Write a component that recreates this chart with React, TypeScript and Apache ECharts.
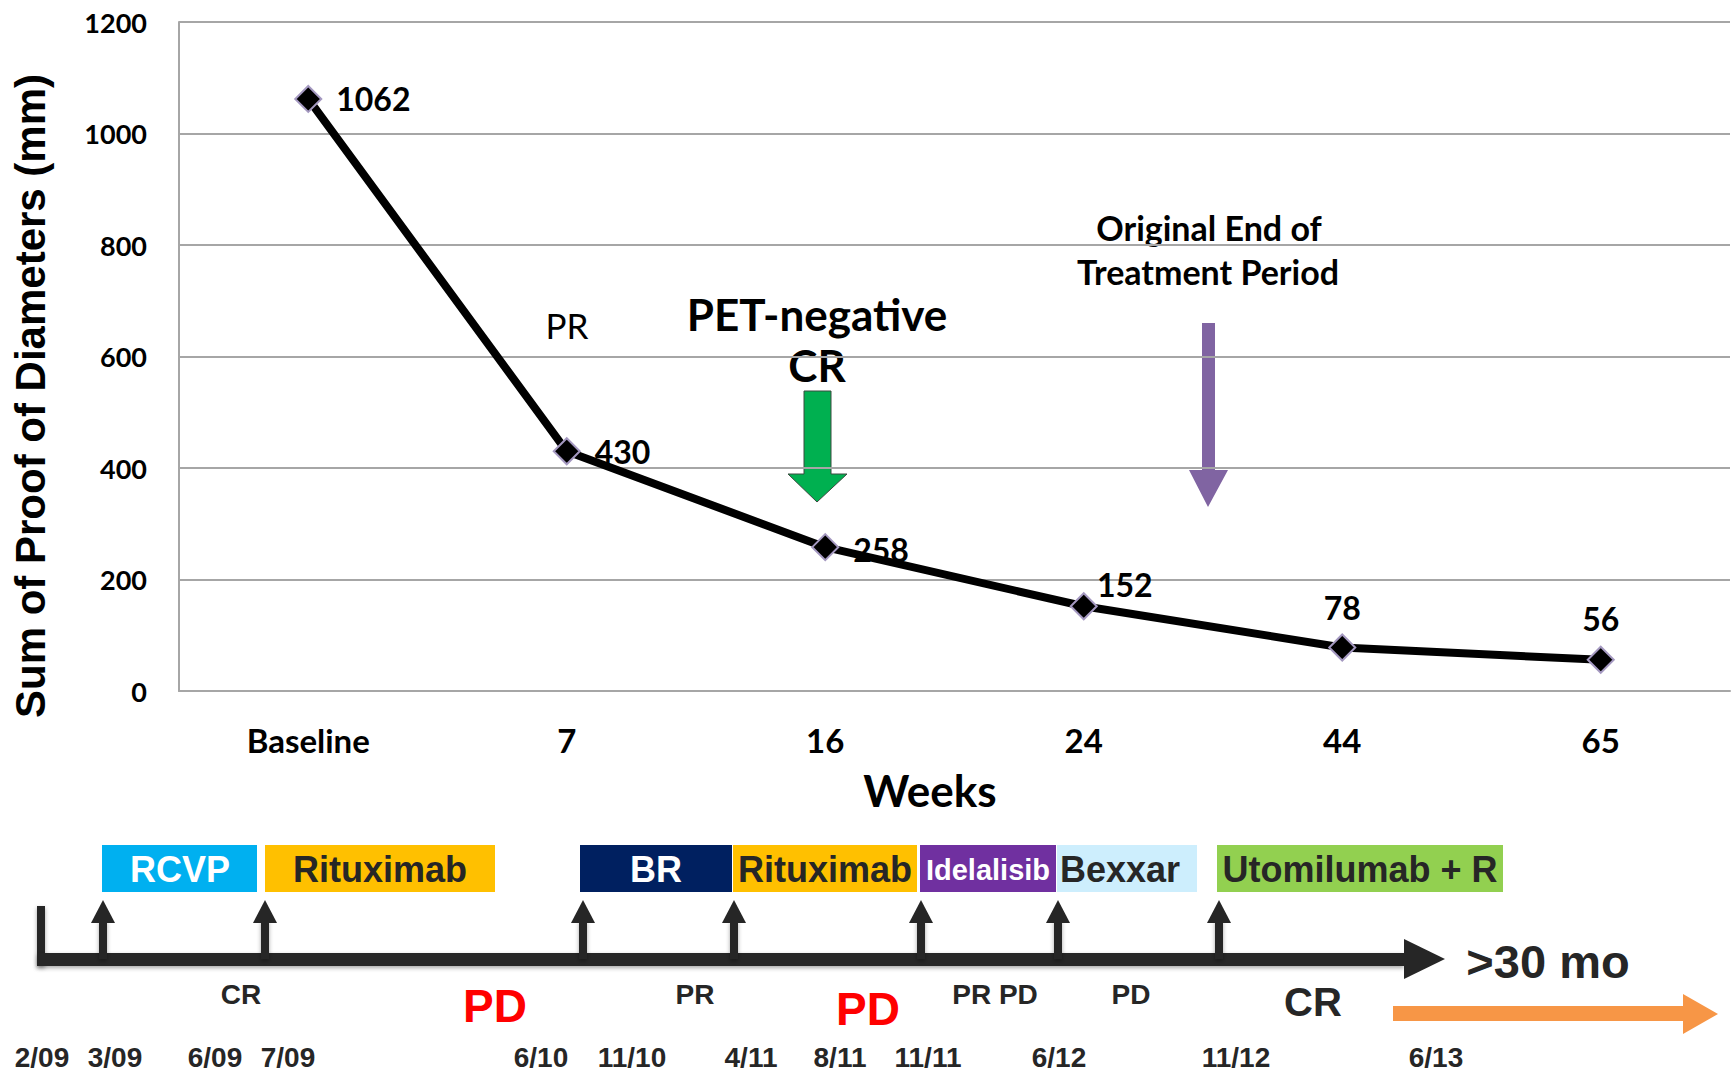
import React, { useEffect, useRef } from "react";
import * as echarts from "echarts";

// ---------- data ----------
const categories = ["Baseline", "7", "16", "24", "44", "65"];
const sumDiameters = [1062, 430, 258, 152, 78, 56];
const yMin = 0;
const yMax = 1200;
const yInterval = 200;

const yAxisTitle = "Sum of Proof of Diameters (mm)";
const xAxisTitle = "Weeks";

const treatments = ["RCVP", "Rituximab", "BR", "Rituximab", "Idelalisib", "Bexxar", "Utomilumab + R"];
const dates = ["2/09", "3/09", "6/09", "7/09", "6/10", "11/10", "4/11", "8/11", "11/11", "6/12", "11/12", "6/13"];
const responses = ["CR", "PD", "PR", "PD", "PR PD", "PD", "CR"];

// ---------- layout / style (kept separate from data) ----------
const FONT_C = 'Lato, "Noto Sans", sans-serif';
const FONT_A = '"Liberation Sans", Arial, sans-serif';
const DARK = "#262626";

const boxSpans = [[102, 257], [265, 495], [580, 732], [733, 917], [920, 1056], [1057, 1197], [1217, 1503]];
const boxTextX = [180, 380, 656, 825, 988, 1120, 1360];
const boxFill = ["#00b0f0", "#ffc000", "#002060", "#ffc000", "#7030a0", "#cdeefd", "#92d050"];
const boxTextColor = ["#ffffff", DARK, "#ffffff", DARK, "#ffffff", DARK, DARK];
const boxFontSize = [36, 36, 36, 36, 29, 36, 36];
const BOX_Y = 845;
const BOX_H = 47;

const upArrowX = [103, 265, 583, 734, 921, 1058, 1219];
const dateX = [42, 115, 215, 288, 541, 632, 751, 840, 928, 1059, 1236, 1436];
const DATE_Y = 1057;
const respPos = [[241, 994], [495, 1006], [695, 994], [868, 1009], [995, 994], [1131, 994], [1313, 1002]];
const respColor = [DARK, "#ff0000", DARK, "#ff0000", DARK, DARK, DARK];
const respSize = [28, 46, 28, 46, 28, 28, 40];

// label placement for data points
const labelPlacement: any[] = [
  { position: "right", distance: 14 },
  { position: "right", distance: 14 },
  { position: "right", distance: 14, offset: [0, 2] },
  { position: "top", distance: 0, offset: [41, 8] },
  { position: "top", distance: 10 },
  { position: "top", distance: 11 },
];

function buildGraphic() {
  const g: any[] = [];
  g.push({
    type: "text",
    x: 30,
    y: 396,
    rotation: Math.PI / 2,
    style: { text: yAxisTitle, font: `bold 42px ${FONT_A}`, fill: "#000", align: "center", verticalAlign: "middle" },
  });
  g.push({
    type: "text",
    x: 930,
    y: 790,
    style: { text: xAxisTitle, font: `bold 44px ${FONT_C}`, fill: "#000", align: "center", verticalAlign: "middle" },
  });
  g.push({ type: "text", x: 567, y: 325, style: { text: "PR", font: `35px ${FONT_C}`, fill: "#000", align: "center", verticalAlign: "middle" } });
  g.push({ type: "text", x: 817, y: 314, style: { text: "PET-negative", font: `bold 44px ${FONT_C}`, fill: "#000", align: "center", verticalAlign: "middle" } });
  g.push({ type: "text", x: 817, y: 365, style: { text: "CR", font: `bold 44px ${FONT_C}`, fill: "#000", align: "center", verticalAlign: "middle" } });
  g.push({ type: "text", x: 1209, y: 227, style: { text: "Original End of", font: `bold 34px ${FONT_C}`, fill: "#000", align: "center", verticalAlign: "middle" } });
  g.push({ type: "text", x: 1208, y: 271, style: { text: "Treatment Period", font: `bold 34px ${FONT_C}`, fill: "#000", align: "center", verticalAlign: "middle" } });
  g.push({
    type: "polygon",
    shape: { points: [[804, 391], [831, 391], [831, 474], [847, 474], [817, 502], [788, 474], [804, 474]] },
    style: { fill: "#00b050", stroke: "#3a4a3f", lineWidth: 1 },
  });
  g.push({
    type: "polygon",
    shape: { points: [[1202, 323], [1215, 323], [1215, 470], [1228, 470], [1208, 507], [1189, 470], [1202, 470]] },
    style: { fill: "#8064a2" },
  });

  treatments.forEach((t, i) => {
    const [x0, x1] = boxSpans[i];
    g.push({ type: "rect", shape: { x: x0, y: BOX_Y, width: x1 - x0, height: BOX_H }, style: { fill: boxFill[i] } });
    g.push({
      type: "text",
      x: boxTextX[i],
      y: BOX_Y + BOX_H / 2 + 1,
      style: { text: t, font: `bold ${boxFontSize[i]}px ${FONT_A}`, fill: boxTextColor[i], align: "center", verticalAlign: "middle" },
    });
  });

  const shadow = { shadowBlur: 4, shadowColor: "rgba(0,0,0,0.35)", shadowOffsetY: 2 };
  g.push({ type: "rect", shape: { x: 37, y: 906, width: 8, height: 60 }, style: { fill: DARK, ...shadow } });
  g.push({ type: "rect", shape: { x: 37, y: 953, width: 1404 - 37, height: 13 }, style: { fill: DARK, ...shadow } });
  g.push({ type: "polygon", shape: { points: [[1404, 939], [1445, 959], [1404, 979]] }, style: { fill: DARK } });
  upArrowX.forEach((x) => {
    g.push({ type: "rect", shape: { x: x - 4, y: 920, width: 8, height: 959 - 920 }, style: { fill: DARK, ...shadow } });
    g.push({ type: "polygon", shape: { points: [[x - 12, 923], [x + 12, 923], [x, 900]] }, style: { fill: DARK } });
  });
  g.push({ type: "text", x: 1548, y: 961, style: { text: ">30 mo", font: `bold 47px ${FONT_A}`, fill: DARK, align: "center", verticalAlign: "middle" } });

  responses.forEach((r, i) => {
    g.push({
      type: "text",
      x: respPos[i][0],
      y: respPos[i][1],
      style: { text: r, font: `bold ${respSize[i]}px ${FONT_A}`, fill: respColor[i], align: "center", verticalAlign: "middle" },
    });
  });
  g.push({
    type: "polygon",
    shape: { points: [[1393, 1006], [1683, 1006], [1683, 994], [1718, 1014], [1683, 1034], [1683, 1021], [1393, 1021]] },
    style: { fill: "#f79646" },
  });
  dates.forEach((d, i) => {
    g.push({
      type: "text",
      x: dateX[i],
      y: DATE_Y,
      style: { text: d, font: `bold 28px ${FONT_A}`, fill: DARK, align: "center", verticalAlign: "middle" },
    });
  });
  return g;
}

export default function App() {
  const ref = useRef<HTMLDivElement>(null);
  useEffect(() => {
    if (!ref.current) return;
    const chart = echarts.init(ref.current, null, { renderer: "svg" });
    chart.setOption({
      animation: false,
      backgroundColor: "#ffffff",
      grid: { left: 179, right: 6, top: 22, bottom: 380 },
      xAxis: {
        type: "category",
        data: categories,
        boundaryGap: true,
        axisLine: { show: true, lineStyle: { color: "#a6a6a6", width: 2 } },
        axisTick: { show: false },
        axisLabel: { margin: 32, fontFamily: FONT_C, fontWeight: "bold", fontSize: 33, color: "#000" },
      },
      yAxis: {
        type: "value",
        min: yMin,
        max: yMax,
        interval: yInterval,
        axisLine: { show: true, lineStyle: { color: "#a6a6a6", width: 2 } },
        axisTick: { show: false },
        splitLine: { show: true, lineStyle: { color: "#a6a6a6", width: 2 } },
        axisLabel: { margin: 32, fontFamily: FONT_C, fontWeight: "bold", fontSize: 27, color: "#000", formatter: (v: number) => String(v) },
      },
      series: [
        {
          type: "line",
          data: sumDiameters.map((v, i) => ({ value: v, label: labelPlacement[i] })),
          symbol: "diamond",
          symbolSize: 26,
          lineStyle: { color: "#000", width: 8 },
          itemStyle: { color: "#000", borderColor: "#a498c0", borderWidth: 2 },
          label: { show: true, fontFamily: FONT_C, fontWeight: "bold", fontSize: 32, color: "#000" },
          z: 3,
        },
      ],
      graphic: buildGraphic(),
    });
    return () => chart.dispose();
  }, []);
  return (
    <div
      ref={ref}
      style={{ position: "fixed", left: 0, top: 0, width: 1736, height: 1071, background: "#fff" }}
    />
  );
}
